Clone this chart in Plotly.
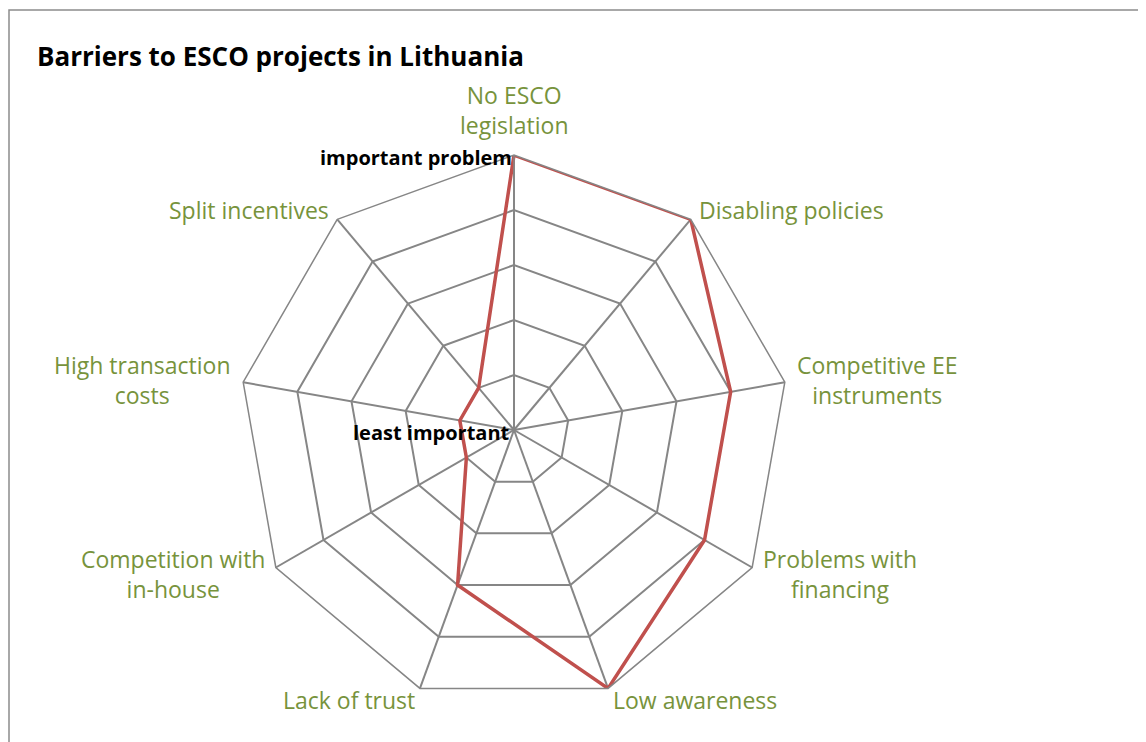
import math
import plotly.graph_objects as go

# barrier categories, clockwise from the top
categories = [
    "No ESCO legislation",
    "Disabling policies",
    "Competitive EE instruments",
    "Problems with financing",
    "Low awareness",
    "Lack of trust",
    "Competition with in-house",
    "High transaction costs",
    "Split incentives",
]
category_labels = [
    "No ESCO<br>legislation",
    "Disabling policies",
    "Competitive EE<br>instruments",
    "Problems with<br>financing",
    "Low awareness",
    "Lack of trust",
    "Competition with<br>in-house",
    "High transaction<br>costs",
    "Split incentives",
]
scores = [5, 5, 4, 4, 5, 3, 1, 1, 1]

radial_ticks = [0, 1, 2, 3, 4, 5]
scale_low = "least important"
scale_high = "important problem"

W, H = 1146, 742
OFF = 8  # the page body adds an 8px margin around the plot div
cx, cy, rad = 514, 430, 273  # web centre / radius in screen px

GREY = "#868686"
GREEN = "#77933C"
FONT = "'Open Sans', Lato, sans-serif"


def px(x):
    return (x - OFF) / W


def py(y):
    return 1 - (y - OFF) / H


fig = go.Figure()
fig.add_trace(go.Scatterpolar(
    r=scores + scores[:1],
    theta=categories + categories[:1],
    mode="lines",
    line=dict(color="#C0504D", width=3.5),
    hoverinfo="skip",
    showlegend=False,
))

# category labels as centred annotations just outside each spoke
annotations = []
n = len(categories)
for i, lab in enumerate(category_labels):
    a = 2 * math.pi * i / n
    s, c = math.sin(a), math.cos(a)
    x = cx + (rad + 12) * s
    y = cy - (rad + 14) * c
    if abs(s) < 1e-6:
        xa, ya = "center", "bottom"
    else:
        xa, ya = ("left" if s > 0 else "right"), "middle"
    annotations.append(dict(
        text=lab, xref="paper", yref="paper", x=px(x), y=py(y),
        xanchor=xa, yanchor=ya, align="center", showarrow=False,
        font=dict(size=23, color=GREEN, family=FONT),
    ))

annotations += [
    dict(text=f"<b>{scale_high}</b>", xref="paper", yref="paper",
         x=px(cx), y=py(cy - rad + 1), xanchor="right", yanchor="middle",
         showarrow=False, font=dict(size=20, color="black", family=FONT)),
    dict(text=f"<b>{scale_low}</b>", xref="paper", yref="paper",
         x=px(cx - 2), y=py(cy + 2), xanchor="right", yanchor="middle",
         showarrow=False, font=dict(size=20, color="black", family=FONT)),
]

fig.update_layout(
    width=W, height=H,
    margin=dict(l=0, r=0, t=0, b=0),
    paper_bgcolor="white",
    font=dict(family=FONT),
    title=dict(
        text="<b>Barriers to ESCO projects in Lithuania</b>",
        x=px(37), xanchor="left", y=py(57), yanchor="middle",
        font=dict(size=26, color="black", family=FONT),
    ),
    polar=dict(
        domain=dict(x=[px(cx - rad - 2), px(cx + rad + 2)],
                    y=[py(cy + rad + 2), py(cy - rad - 2)]),
        gridshape="linear",
        bgcolor="white",
        radialaxis=dict(
            range=[0, 5],
            tickvals=radial_ticks,
            showticklabels=False,
            angle=90,
            showline=True,
            linecolor=GREY,
            linewidth=1.5,
            gridcolor=GREY,
            gridwidth=1.5,
            ticks="",
        ),
        angularaxis=dict(
            direction="clockwise",
            rotation=90,
            categoryarray=categories,
            showticklabels=False,
            showline=True,
            linecolor=GREY,
            linewidth=1.5,
            gridcolor=GREY,
            gridwidth=1.5,
            ticks="",
        ),
    ),
    annotations=annotations,
    shapes=[dict(
        type="rect", xref="paper", yref="paper",
        x0=px(9), x1=1.05, y0=-0.05, y1=py(10),
        line=dict(color="#8C8C8C", width=1.5),
    )],
)

fig.write_html("out.html")
